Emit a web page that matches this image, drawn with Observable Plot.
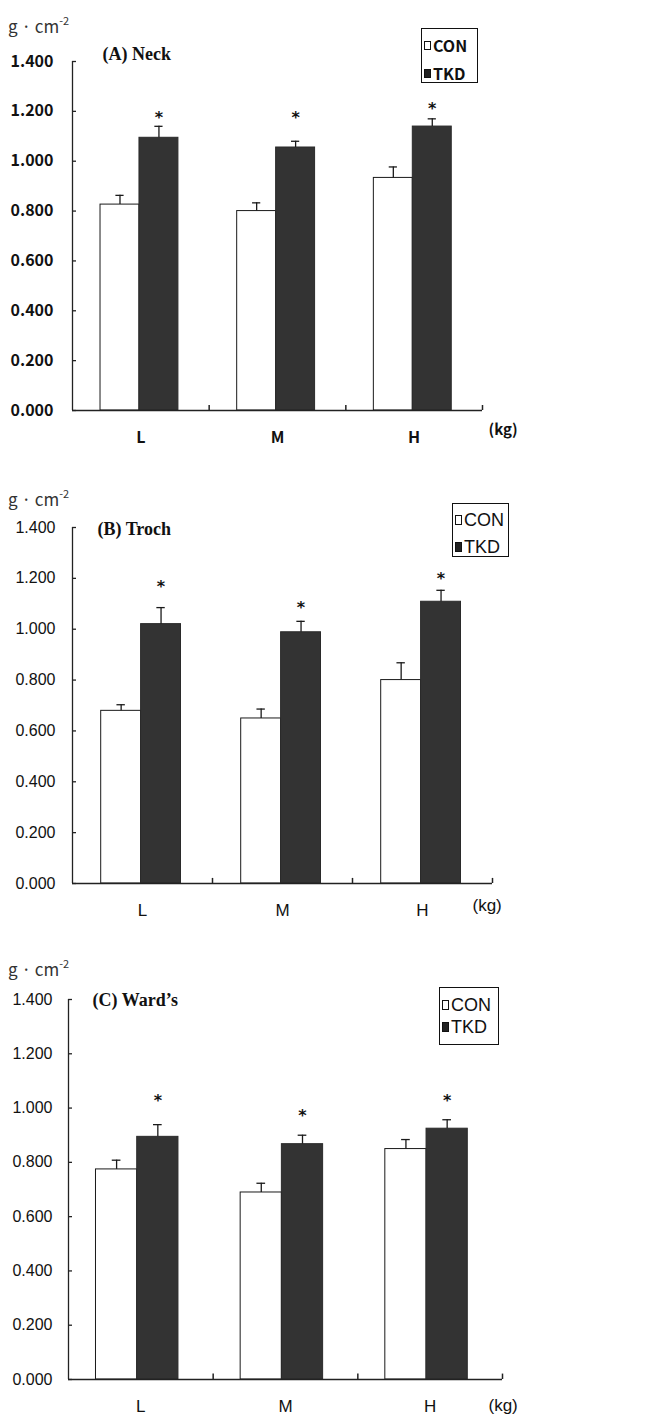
<!DOCTYPE html>
<html>
<head>
<meta charset="utf-8">
<script src="https://cdn.jsdelivr.net/npm/d3@7"></script>
<script src="https://cdn.jsdelivr.net/npm/@observablehq/plot@0.6"></script>
<style>
  html, body { margin: 0; padding: 0; background: #fff; }
  #wrap { position: relative; width: 657px; height: 1416px; overflow: hidden; background: #fff; }
  .panel { position: absolute; left: 0; }
  .unit { position: absolute; font-family: "Noto Sans CJK KR", "Noto Sans", sans-serif; font-size: 17px; color: #333; line-height: 1; white-space: nowrap; }
  .unit sup { font-size: 11px; position: relative; top: -1px; }
  .legend { position: absolute; border: 1px solid #111; background: #fff; box-sizing: border-box; }
  .legend .row { position: absolute; left: 2px; display: flex; align-items: center; white-space: nowrap; color: #111; line-height: 1; }
  .legend .sw { display: inline-block; box-sizing: border-box; border: 1px solid #111; margin-right: 2px; }
</style>
</head>
<body>
<div id="wrap"></div>
<script>
// ---------- data ----------
const categories = ["L", "M", "H"];
const series = ["CON", "TKD"];
const titles = ["(A) Neck", "(B) Troch", "(C) Ward\u2019s"];
const yTicks = [0, 0.2, 0.4, 0.6, 0.8, 1.0, 1.2, 1.4];

// (A) Neck
const neckCON = [0.826, 0.800, 0.933];
const neckCONse = [0.037, 0.033, 0.044];
const neckTKD = [1.094, 1.055, 1.139];
const neckTKDse = [0.046, 0.025, 0.031];
const neckStar = [1.188, 1.188, 1.228];

// (B) Troch
const trochCON = [0.679, 0.649, 0.800];
const trochCONse = [0.024, 0.037, 0.068];
const trochTKD = [1.020, 0.988, 1.108];
const trochTKDse = [0.065, 0.043, 0.045];
const trochStar = [1.181, 1.101, 1.212];

// (C) Ward's
const wardCON = [0.774, 0.689, 0.849];
const wardCONse = [0.034, 0.034, 0.035];
const wardTKD = [0.894, 0.867, 0.924];
const wardTKDse = [0.045, 0.033, 0.033];
const wardStar = [1.040, 0.985, 1.040];

// ---------- layout ----------
const boldFont = "'Noto Sans CJK KR', 'DejaVu Sans', sans-serif";
const plainFont = "'Liberation Sans', Arial, sans-serif";
const serifFont = "'Liberation Serif', 'Times New Roman', serif";

const panels = [
  {con: neckCON, conSE: neckCONse, tkd: neckTKD, tkdSE: neckTKDse, star: neckStar, title: titles[0],
   top: 0, height: 465, mt: 61, mb: 55, ml: 72, mr: 175, gc: 0.49,
   font: boldFont, weight: "bold", tickSize: 16, catSize: 16, kgSize: 15, tickPad: 19, catPad: 21,
   titleDx: 30, titleDy: -2, kgDx: 6, kgDy: 20,
   unit: {left: 8, top: 16},
   legend: {left: 421, top: 28, w: 57, h: 55, rows: [45, 73], font: boldFont, weight: "bold", size: 16, sw: [7, 9]}},
  {con: trochCON, conSE: trochCONse, tkd: trochTKD, tkdSE: trochTKDse, star: trochStar, title: titles[1],
   top: 465, height: 475, mt: 62, mb: 57, ml: 72, mr: 165, gc: 0.49,
   font: plainFont, weight: "normal", tickSize: 16, catSize: 17, kgSize: 17, tickPad: 17, catPad: 20,
   titleDx: 25, titleDy: 7, kgDx: -20, kgDy: 22,
   unit: {left: 8, top: 489},
   legend: {left: 452, top: 503, w: 57, h: 54, rows: [520, 547], font: plainFont, weight: "normal", size: 18, sw: [7, 10]}},
  {con: wardCON, conSE: wardCONse, tkd: wardTKD, tkdSE: wardTKDse, star: wardStar, title: titles[2],
   top: 940, height: 476, mt: 59, mb: 37, ml: 68, mr: 155, gc: 0.475,
   font: plainFont, weight: "normal", tickSize: 16, catSize: 17, kgSize: 17, tickPad: 16, catPad: 20,
   titleDx: 24, titleDy: 6, kgDx: -14, kgDy: 26,
   unit: {left: 8, top: 959},
   legend: {left: 439, top: 987, w: 60, h: 58, rows: [1005, 1027], font: plainFont, weight: "normal", size: 18, sw: [7, 10]}}
];

const wrap = document.getElementById("wrap");
const bw = 0.285;   // bar width in category units
const cap = 0.03;   // half cap width

panels.forEach(p => {
  const rows = categories.flatMap((c, i) => [
    {cat: c, i, series: series[0], value: p.con[i], se: p.conSE[i]},
    {cat: c, i, series: series[1], value: p.tkd[i], se: p.tkdSE[i]}
  ]);
  const x1 = d => d.series === "CON" ? d.i + p.gc - bw : d.i + p.gc;
  const x2 = d => d.series === "CON" ? d.i + p.gc : d.i + p.gc + bw;
  const xc = d => (x1(d) + x2(d)) / 2;
  const bandPx = (657 - p.ml - p.mr) / categories.length;
  const tickLen = 4 / bandPx;
  const n = categories.length;

  const chart = Plot.plot({
    width: 657,
    height: p.height,
    marginTop: p.mt, marginBottom: p.mb, marginLeft: p.ml, marginRight: p.mr,
    x: {domain: [0, n], axis: null},
    y: {domain: [0, 1.4], axis: null},
    style: {background: "transparent", color: "#111", overflow: "visible"},
    marks: [
      // bars
      Plot.rectY(rows.filter(d => d.series === "CON"), {x1, x2, y1: 0, y2: "value", fill: "#fff", stroke: "#1a1a1a", strokeWidth: 1}),
      Plot.rectY(rows.filter(d => d.series === "TKD"), {x1, x2, y1: 0, y2: "value", fill: "#333", stroke: "#2a2a2a", strokeWidth: 1}),
      // error bars
      Plot.ruleX(rows, {x: xc, y1: "value", y2: d => d.value + d.se, stroke: "#1a1a1a", strokeWidth: 1.3}),
      Plot.ruleY(rows, {y: d => d.value + d.se, x1: d => xc(d) - cap, x2: d => xc(d) + cap, stroke: "#1a1a1a", strokeWidth: 1.3}),
      // significance stars
      Plot.text(categories, {x: (d, i) => i + p.gc + bw / 2, y: (d, i) => p.star[i], text: () => "*",
        fontSize: 16, fontWeight: "bold", fontFamily: "'DejaVu Sans', sans-serif", fill: "#111", dy: 4}),
      // axis lines
      Plot.ruleX([0], {y1: 0, y2: 1.4, stroke: "#222", strokeWidth: 1.3}),
      Plot.ruleY([0], {x1: 0, x2: n, stroke: "#222", strokeWidth: 1.3}),
      // y ticks (inward)
      Plot.ruleY(yTicks, {x1: 0, x2: tickLen, stroke: "#222", strokeWidth: 1.3}),
      // x ticks at category boundaries (upward)
      Plot.ruleX(d3.range(1, n + 1), {y1: 0, y2: 0.02, stroke: "#222", strokeWidth: 1.5}),
      Plot.axisY(yTicks, {label: null, tickSize: 0, tickPadding: p.tickPad, tickFormat: d3.format(".3f"),
        fontSize: p.tickSize, fontWeight: p.weight, fontFamily: p.font, fill: "#111"}),
      Plot.axisX(categories.map((c, i) => i + 0.5), {label: null, tickSize: 0, tickPadding: p.catPad, tickFormat: d => categories[Math.floor(d)],
        fontSize: p.catSize, fontWeight: p.weight, fontFamily: p.font, fill: "#111"}),
      // title
      Plot.text([p.title], {frameAnchor: "top-left", dx: p.titleDx, dy: p.titleDy, textAnchor: "start", lineAnchor: "bottom",
        fontFamily: serifFont, fontSize: 18, fontWeight: "bold", fill: "#111"}),
      // (kg)
      Plot.text(["(kg)"], {frameAnchor: "bottom-right", dx: p.kgDx, dy: p.kgDy, textAnchor: "start", lineAnchor: "middle",
        fontFamily: p.font, fontSize: p.kgSize, fontWeight: p.weight, fill: "#111"})
    ]
  });
  const div = document.createElement("div");
  div.className = "panel";
  div.style.top = p.top + "px";
  div.appendChild(chart);
  wrap.appendChild(div);

  // unit label
  const u = document.createElement("div");
  u.className = "unit";
  u.style.left = p.unit.left + "px";
  u.style.top = p.unit.top + "px";
  u.innerHTML = "g \u00b7 cm<sup>-2</sup>";
  wrap.appendChild(u);

  // legend
  const L = p.legend;
  const lg = document.createElement("div");
  lg.className = "legend";
  Object.assign(lg.style, {left: L.left + "px", top: L.top + "px", width: L.w + "px", height: L.h + "px"});
  series.forEach((s, k) => {
    const r = document.createElement("div");
    r.className = "row";
    r.style.top = (L.rows[k] - L.top - 1 - L.size / 2) + "px";
    r.style.height = L.size + "px";
    r.style.fontFamily = L.font;
    r.style.fontWeight = L.weight;
    r.style.fontSize = L.size + "px";
    const sw = document.createElement("span");
    sw.className = "sw";
    sw.style.width = L.sw[0] + "px";
    sw.style.height = L.sw[1] + "px";
    sw.style.background = k === 0 ? "#fff" : "#222";
    r.appendChild(sw);
    r.appendChild(document.createTextNode(s));
    lg.appendChild(r);
  });
  wrap.appendChild(lg);
});
</script>
</body>
</html>
